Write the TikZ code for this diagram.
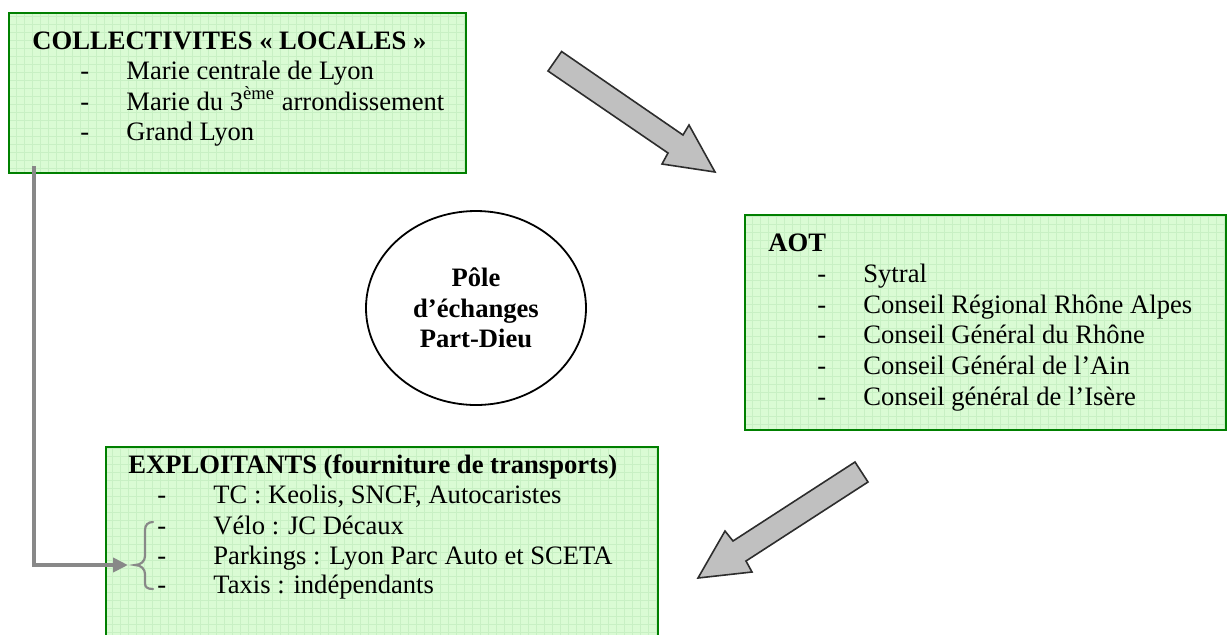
\documentclass[tikz,border=0pt]{standalone}
\usepackage{fontspec}
\setmainfont{Liberation Serif}
\usetikzlibrary{arrows.meta,shapes.geometric}
\definecolor{boxfill}{RGB}{218,251,212}
\definecolor{boxgrid}{RGB}{200,240,196}
\definecolor{boxline}{RGB}{0,128,0}
\definecolor{bigfill}{RGB}{192,192,192}
\definecolor{bigline}{RGB}{45,45,45}
\definecolor{conncol}{RGB}{136,136,136}
\tikzset{
  greenbox/.style={draw=boxline, line width=1.1pt, fill=boxfill, rectangle, inner sep=0pt, outer sep=0pt, anchor=north west},
  txt/.style={anchor=base west, inner sep=0pt, font=\fontsize{13.3pt}{15.3pt}\selectfont},
  ttl/.style={txt, font=\fontsize{13.3pt}{15.3pt}\selectfont\bfseries},
  bigarrow/.style={fill=bigfill, draw=bigline, line width=0.8pt, line join=miter},
  conn/.style={draw=conncol, line width=2.4pt, -{Triangle[length=7.5pt,width=7pt]}},
  bracestyle/.style={draw=conncol, line width=1.1pt, line cap=round},
}
\begin{document}
\begin{tikzpicture}[x=0.5pt,y=-0.5pt]
\useasboundingbox (0,0) rectangle (1227,634);
\clip (0,0) rectangle (1227,634);
% boxes
\node[greenbox, minimum width=228.5pt, minimum height=80pt] (box1) at (9,13) {};
\node[greenbox, minimum width=240.5pt, minimum height=107.5pt] (aot) at (745,215) {};
\node[greenbox, minimum width=276pt, minimum height=100pt] (expl) at (106,447) {};
% faint grid
\begin{scope}
\clip (9,13) rectangle (466,173);
\draw[boxgrid, line width=0.2pt, step=4pt] (9,13) grid (466,173);
\end{scope}
\begin{scope}
\clip (745,215) rectangle (1226,430);
\draw[boxgrid, line width=0.2pt, step=4pt] (745,215) grid (1226,430);
\end{scope}
\begin{scope}
\clip (106,447) rectangle (658,650);
\draw[boxgrid, line width=0.2pt, step=4pt] (106,447) grid (658,650);
\end{scope}
\draw[boxline, line width=1.1pt] (box1.north west) rectangle (box1.south east);
\draw[boxline, line width=1.1pt] (aot.north west) rectangle (aot.south east);
\draw[boxline, line width=1.1pt] (expl.north west) rectangle (expl.south east);
% box 1 text
\node[ttl] (t1) at (32,49) {COLLECTIVITES « LOCALES »};
\node[txt] (d11) at (80,79) {-};
\node[txt] (i11) at (126,79) {Marie centrale de Lyon};
\node[txt] (d12) at (80,110) {-};
\node[txt] (i12) at (126,110) {Marie du 3\textsuperscript{ème} arrondissement};
\node[txt] (d13) at (80,140) {-};
\node[txt] (i13) at (126,140) {Grand Lyon};
% AOT text
\node[ttl] (t2) at (768,251) {AOT};
\node[txt] (d21) at (817,282) {-};
\node[txt] (i21) at (863,282) {Sytral};
\node[txt] (d22) at (817,313) {-};
\node[txt] (i22) at (863,313) {Conseil Régional Rhône Alpes};
\node[txt] (d23) at (817,343) {-};
\node[txt] (i23) at (863,343) {Conseil Général du Rhône};
\node[txt] (d24) at (817,374) {-};
\node[txt] (i24) at (863,374) {Conseil Général de l’Ain};
\node[txt] (d25) at (817,405) {-};
\node[txt] (i25) at (863,405) {Conseil général de l’Isère};
% Exploitants text
\node[ttl] (t3) at (128,473) {EXPLOITANTS (fourniture de transports)};
\node[txt] (d31) at (157,503) {-};
\node[txt] (i31) at (213,503) {TC : Keolis, SNCF, Autocaristes};
\node[txt] (d32) at (157,534) {-};
\node[txt] (i32) at (213,534) {Vélo : JC Décaux};
\node[txt] (d33) at (157,564) {-};
\node[txt] (i33) at (213,564) {Parkings : Lyon Parc Auto et SCETA};
\node[txt] (d34) at (157,593) {-};
\node[txt] (i34) at (213,593) {Taxis : indépendants};
% central ellipse
\node[draw=black, line width=0.9pt, ellipse, minimum width=110pt, minimum height=97pt, inner sep=0pt, align=center,
      font=\fontsize{13.3pt}{15.3pt}\selectfont\bfseries] (pole) at (476,308) {Pôle\\d’échanges\\Part-Dieu};
% big arrows
\draw[bigarrow] (548,71) -- (668,153) -- (662,164) -- (715,172) -- (689,125) -- (683,135) -- (561.6,51.5) -- cycle;
\draw[bigarrow] (855,462) -- (733,541) -- (725,531) -- (698,578) -- (752,572) -- (746,561) -- (868,482) -- cycle;
% connector
\coordinate (cs) at (34,166);
\coordinate (ct) at (128,565);
\draw[conn] (cs) |- (ct);
% brace
\coordinate (bt) at (135,565);
\draw[bracestyle] (153,522) .. controls (148,522) and (145,525) .. (145,530) -- (145,556) .. controls (145,561) and (141,565) .. (bt)
  .. controls (141,565) and (145,569) .. (145,574) -- (145,583) .. controls (145,587) and (147,589) .. (153,589);
\end{tikzpicture}
\end{document}
